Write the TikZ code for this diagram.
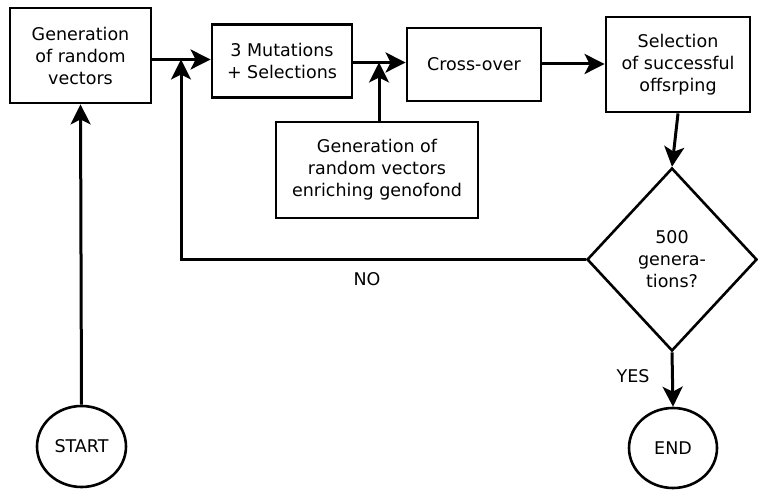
\documentclass[tikz,border=0pt]{standalone}
\usepackage{fontspec}
\setmainfont{DejaVu Sans}
\usetikzlibrary{shapes.geometric,arrows.meta}
\begin{document}
\begin{tikzpicture}[x=0.5pt,y=-0.5pt,
  every node/.style={font=\fontsize{8.75}{11}\selectfont},
  stepbox/.style={draw,line width=1.4pt,align=center,inner sep=0pt},
  decision/.style={draw,line width=1.3pt,diamond,align=center,inner sep=0pt,
    minimum width=85pt,minimum height=91.5pt},
  terminal/.style={draw,line width=1.3pt,ellipse,inner sep=0pt},
  tip/.tip={Stealth[length=10pt,width=10pt,inset=2.5pt]},
  flow/.style={line width=1.5pt,-tip}]
\useasboundingbox (0,0) rectangle (758,490);

% process boxes
\node[stepbox,minimum width=70.5pt,minimum height=47.5pt] (b1) at (80.5,55.5)
  {Generation\\of random\\vectors};
\node[stepbox,minimum width=70pt,minimum height=36.5pt] (b2) at (282,61)
  {3 Mutations\\+ Selections};
\node[stepbox,minimum width=67pt,minimum height=36.5pt] (b3) at (474,64.5)
  {Cross-over};
\node[stepbox,minimum width=72pt,minimum height=47.5pt] (b4) at (678,64.5)
  {Selection\\of successful\\offsrping};
\node[stepbox,minimum width=101pt,minimum height=48pt] (b5) at (377,170)
  {Generation of\\random vectors\\enriching genofond};

% decision and terminals
\node[decision] (dia) at (672,259.5) {500\\genera-\\tions?};
\node[terminal,minimum width=44.5pt,minimum height=40.5pt] (start) at (81.5,446.5) {START};
\node[terminal,minimum width=44pt,minimum height=40pt] (end) at (673,448) {END};

% junction points on the main line
\coordinate (j1) at (181,59.5);
\coordinate (j2) at (379,62.5);
\coordinate (j3) at (574,64);

% connectors
\draw[flow] (b1.east |- j1) -- (j1 -| b2.west);
\draw[flow] (dia.west) -| (j1);
\draw[flow] (start.north) -- (b1.south);
\draw[flow] (b2.east |- j2) -- (j2 -| b3.west);
\draw[flow] (b5.north -| j2) -- (j2);
\draw[flow] (b3.east |- j3) -- (j3 -| b4.west);
\draw[flow] (b4.south) -- (dia.north);
\draw[flow] (dia.south) -- (end.north);

% branch labels
\node (no) at (367,279) {NO};
\node (yes) at (633,376) {YES};
\end{tikzpicture}
\end{document}
